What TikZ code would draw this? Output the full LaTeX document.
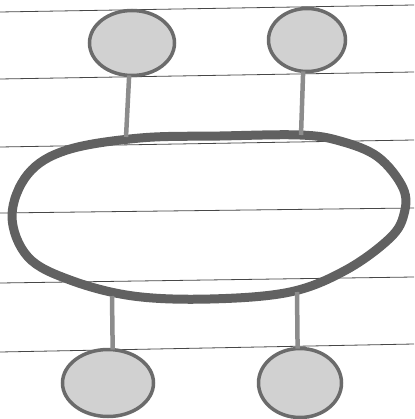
\documentclass[tikz,border=0pt]{standalone}
\usepackage{tikz}
\usetikzlibrary{positioning,shapes.geometric}

\begin{document}
\begin{tikzpicture}[
  x=1pt, y=-1pt,
  blob/.style={ellipse, draw=black!58, line width=3.5pt, fill=black!18, inner sep=0pt, outer sep=0pt},
  loopline/.style={draw=black!62, line width=9pt, line join=round},
  stalk/.style={draw=black!45, line width=4.5pt},
  rule/.style={draw=black!72, line width=0.8pt}
]
\useasboundingbox (0,0) rectangle (414,419);
% ruled paper
\foreach \ya/\yb in {12/5, 79/72, 147/140, 213/208, 283/277, 352/344}
  \draw[rule] (0,\ya) -- (414,\yb);
% the big loop
\draw[loopline] plot[smooth cycle, tension=0.6] coordinates {
  (12,216) (28,174) (67,150) (140,138) (220,136) (300,135) (340,141)
  (378,157) (403,188) (404,214) (390,238) (346,270) (290,292) (210,299)
  (133,296) (70,280) (28,257)};
\coordinate (tla) at (126,137);
\coordinate (tra) at (301,135);
\coordinate (bla) at (112,296);
\coordinate (bra) at (297,292);
% the four knobs
\node[blob, minimum width=85pt, minimum height=65pt] (tl) at (132,43) {};
\node[blob, minimum width=77pt, minimum height=63pt] (tr) at (307,40) {};
\node[blob, minimum width=91pt, minimum height=67pt] (bl) at (108,383) {};
\node[blob, minimum width=83pt, minimum height=69pt] (br) at (300,383) {};
\draw[stalk] (tl.265) -- (tla);
\draw[stalk] (tr.263) -- (tra);
\draw[stalk] (bl.82) -- (bla);
\draw[stalk] (br.94) -- (bra);
\end{tikzpicture}
\end{document}
